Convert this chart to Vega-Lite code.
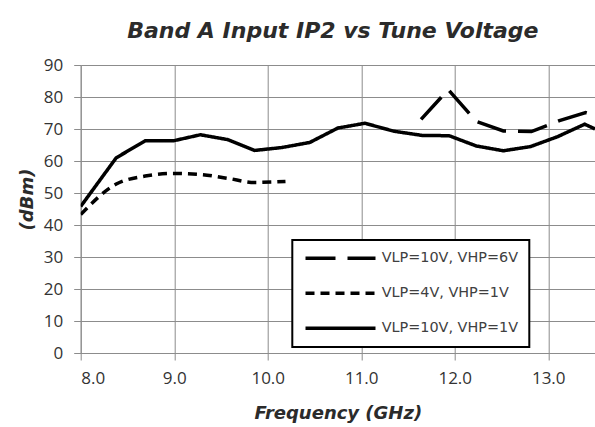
{
  "$schema": "https://vega.github.io/schema/vega-lite/v6.json",
  "autosize": {"type": "none"},
  "padding": {"left": 80.7, "top": 65, "right": 0, "bottom": 74},
  "width": 514.3,
  "height": 288,
  "background": "white",
  "title": {
    "text": "Band A Input IP2 vs Tune Voltage",
    "font": "DejaVu Sans",
    "fontSize": 22,
    "fontWeight": "bold",
    "fontStyle": "italic",
    "color": "#2b2b2b",
    "anchor": "middle",
    "frame": "group",
    "dx": -5,
    "offset": 13
  },
  "data": {
    "values": [
      {"f": 8.00, "v": 45.8, "s": "VLP=10V, VHP=1V"},
      {"f": 8.38, "v": 61.0, "s": "VLP=10V, VHP=1V"},
      {"f": 8.69, "v": 66.3, "s": "VLP=10V, VHP=1V"},
      {"f": 8.99, "v": 66.3, "s": "VLP=10V, VHP=1V"},
      {"f": 9.28, "v": 68.2, "s": "VLP=10V, VHP=1V"},
      {"f": 9.57, "v": 66.7, "s": "VLP=10V, VHP=1V"},
      {"f": 9.86, "v": 63.3, "s": "VLP=10V, VHP=1V"},
      {"f": 10.15, "v": 64.2, "s": "VLP=10V, VHP=1V"},
      {"f": 10.45, "v": 65.8, "s": "VLP=10V, VHP=1V"},
      {"f": 10.75, "v": 70.3, "s": "VLP=10V, VHP=1V"},
      {"f": 11.04, "v": 71.8, "s": "VLP=10V, VHP=1V"},
      {"f": 11.35, "v": 69.3, "s": "VLP=10V, VHP=1V"},
      {"f": 11.65, "v": 68.0, "s": "VLP=10V, VHP=1V"},
      {"f": 11.94, "v": 67.9, "s": "VLP=10V, VHP=1V"},
      {"f": 12.23, "v": 64.7, "s": "VLP=10V, VHP=1V"},
      {"f": 12.52, "v": 63.2, "s": "VLP=10V, VHP=1V"},
      {"f": 12.81, "v": 64.5, "s": "VLP=10V, VHP=1V"},
      {"f": 13.10, "v": 67.6, "s": "VLP=10V, VHP=1V"},
      {"f": 13.39, "v": 71.5, "s": "VLP=10V, VHP=1V"},
      {"f": 13.50, "v": 70.0, "s": "VLP=10V, VHP=1V"},
      {"f": 8.00, "v": 43.3, "s": "VLP=4V, VHP=1V"},
      {"f": 8.38, "v": 52.8, "s": "VLP=4V, VHP=1V"},
      {"f": 8.69, "v": 55.3, "s": "VLP=4V, VHP=1V"},
      {"f": 8.99, "v": 56.1, "s": "VLP=4V, VHP=1V"},
      {"f": 9.28, "v": 55.8, "s": "VLP=4V, VHP=1V"},
      {"f": 9.57, "v": 54.6, "s": "VLP=4V, VHP=1V"},
      {"f": 9.86, "v": 53.3, "s": "VLP=4V, VHP=1V"},
      {"f": 10.19, "v": 53.6, "s": "VLP=4V, VHP=1V"},
      {"f": 11.64, "v": 73.0, "s": "VLP=10V, VHP=6V"},
      {"f": 11.93, "v": 82.3, "s": "VLP=10V, VHP=6V"},
      {"f": 12.23, "v": 72.4, "s": "VLP=10V, VHP=6V"},
      {"f": 12.52, "v": 69.4, "s": "VLP=10V, VHP=6V"},
      {"f": 12.82, "v": 69.2, "s": "VLP=10V, VHP=6V"},
      {"f": 13.12, "v": 72.6, "s": "VLP=10V, VHP=6V"},
      {"f": 13.40, "v": 75.1, "s": "VLP=10V, VHP=6V"},
      {"f": 13.50, "v": 74.2, "s": "VLP=10V, VHP=6V"}
    ]
  },
  "encoding": {
    "x": {
      "field": "f",
      "type": "quantitative",
      "scale": {"domain": [8, 13.5], "nice": false, "zero": false},
      "axis": {
        "values": [8, 9, 10, 11, 12, 13],
        "format": ".1f",
        "title": "Frequency (GHz)",
        "titleY": 60,
        "titleBaseline": "middle"
      }
    },
    "y": {
      "field": "v",
      "type": "quantitative",
      "scale": {"domain": [0, 90], "nice": false},
      "axis": {
        "values": [0, 10, 20, 30, 40, 50, 60, 70, 80, 90],
        "title": "(dBm)",
        "titleX": -53,
        "titleY": 134,
        "titleBaseline": "middle",
        "titleAngle": 270
      }
    },
    "strokeDash": {
      "field": "s",
      "type": "nominal",
      "scale": {
        "domain": ["VLP=10V, VHP=6V", "VLP=4V, VHP=1V", "VLP=10V, VHP=1V"],
        "range": [[30, 12], [9, 6], [1, 0]]
      },
      "legend": {
        "title": null,
        "orient": "none",
        "legendX": 211.6,
        "legendY": 175,
        "symbolType": "M-1,0H13",
        "symbolSize": 100,
        "symbolStrokeWidth": 3.5,
        "symbolStrokeColor": "black",
        "symbolFillColor": "transparent",
        "labelOffset": 64,
        "labelFont": "DejaVu Sans",
        "labelFontSize": 14.4,
        "labelColor": "#404040",
        "rowPadding": 19,
        "padding": 11,
        "strokeColor": "black",
        "fillColor": "white"
      }
    }
  },
  "layer": [
    {
      "transform": [{"filter": "datum.s !== 'VLP=4V, VHP=1V'"}],
      "mark": {"type": "line", "color": "black", "strokeWidth": 3.5, "clip": true}
    },
    {
      "transform": [{"filter": "datum.s === 'VLP=4V, VHP=1V'"}],
      "mark": {"type": "line", "color": "black", "strokeWidth": 3.5, "interpolate": "monotone", "clip": true}
    }
  ],
  "config": {
    "view": {"stroke": null},
    "legend": {"strokeWidth": 2},
    "axis": {
      "gridColor": "#8c8c8c",
      "gridWidth": 1,
      "gridOpacity": 1,
      "domainColor": "#8c8c8c",
      "domainWidth": 1,
      "tickColor": "#8c8c8c",
      "tickSize": 7,
      "tickWidth": 1,
      "labelFont": "Open Sans",
      "labelFontSize": 17,
      "labelColor": "#333333",
      "titleFont": "DejaVu Sans",
      "titleFontSize": 18,
      "titleFontWeight": "bold",
      "titleFontStyle": "italic",
      "titleColor": "#2b2b2b"
    },
    "axisX": {"labelPadding": 10},
    "axisY": {"labelPadding": 11}
  }
}
